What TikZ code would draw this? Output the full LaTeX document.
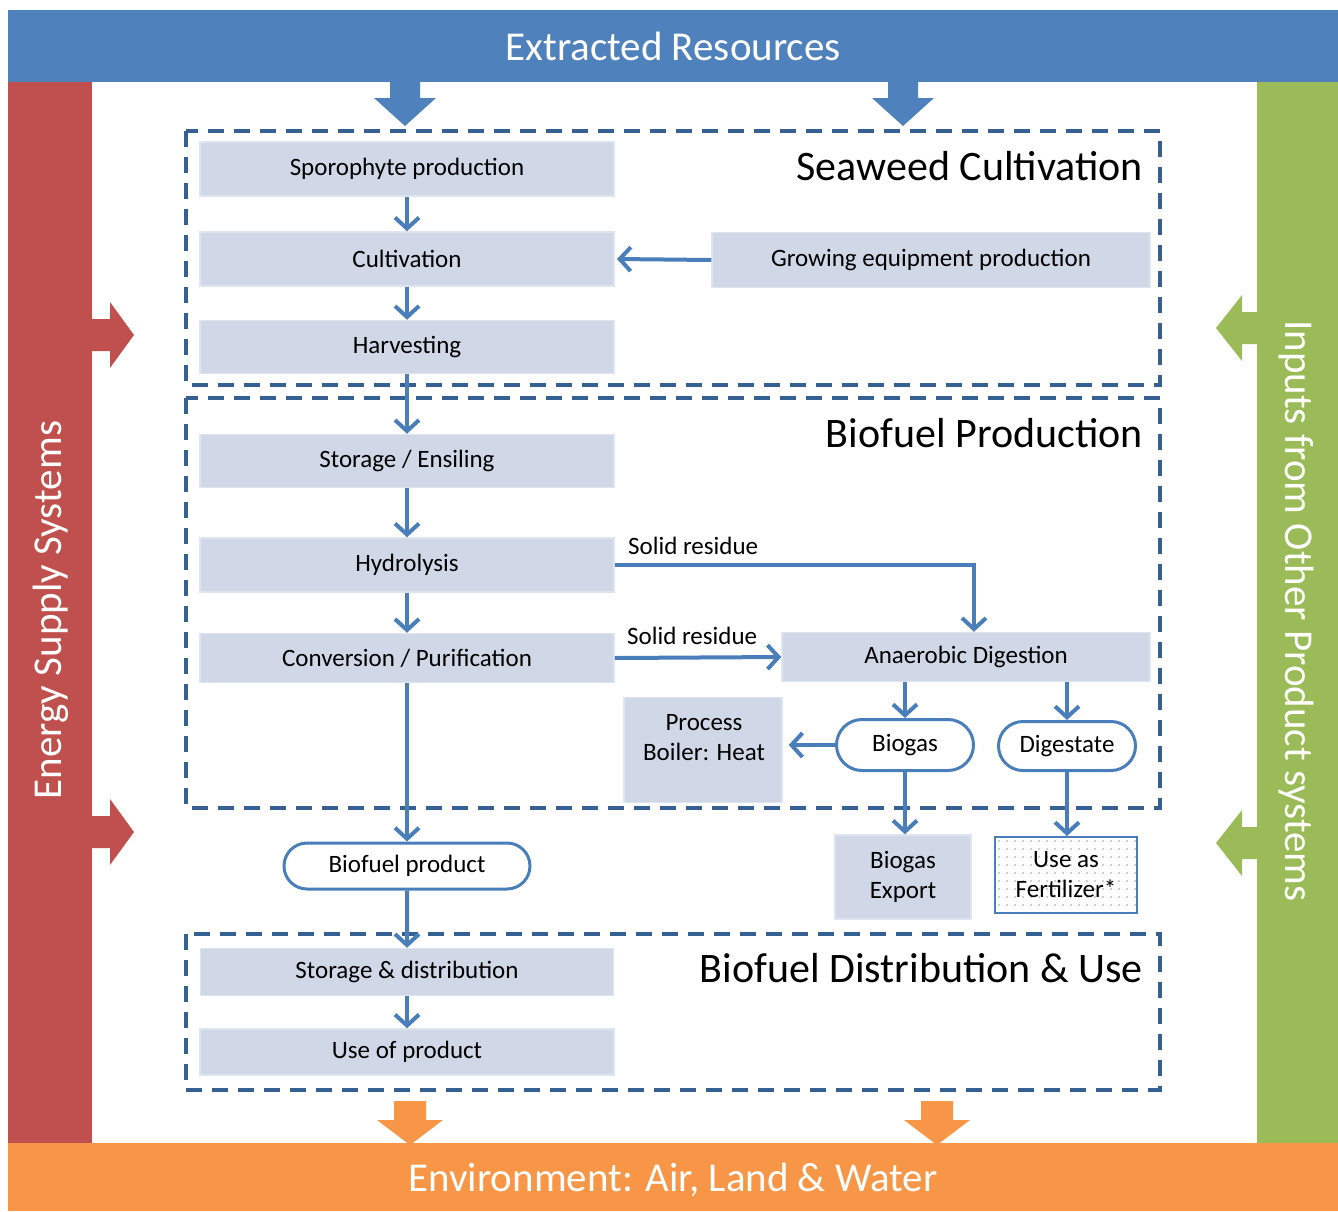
\documentclass[tikz,border=0pt]{standalone}
\usepackage{fontspec}
\setmainfont{Carlito}
\usetikzlibrary{arrows.meta,calc,shapes.misc}
\definecolor{barblue}{RGB}{79,129,189}
\definecolor{barred}{RGB}{192,80,77}
\definecolor{bargreen}{RGB}{155,187,89}
\definecolor{barorange}{RGB}{247,150,70}
\definecolor{boxfill}{RGB}{208,216,232}
\definecolor{boxline}{RGB}{222,228,240}
\definecolor{dashcol}{RGB}{55,96,146}
\definecolor{arrcol}{RGB}{74,126,187}
\tikzset{
  proc/.style={fill=boxfill, draw=boxline, line width=1.5pt, inner sep=0pt, align=center,
    font=\fontsize{25}{30}\selectfont},
  pill/.style={rounded rectangle, fill=white, draw=arrcol, line width=3pt, inner sep=0pt,
    font=\fontsize{25}{30}\selectfont},
  dashbox/.style={draw=dashcol, line width=4pt, dash pattern=on 16pt off 10pt},
  arr/.style={draw=arrcol, line width=4pt, -{Straight Barb[length=11pt,width=24pt]}},
  title/.style={anchor=east, inner sep=0pt, font=\fontsize{42}{46}\selectfont},
  bartext/.style={text=white, inner sep=0pt, font=\fontsize{41}{46}\selectfont},
  lbl/.style={inner sep=0pt, font=\fontsize{25}{30}\selectfont},
  txt/.style={inner sep=0pt, align=center, font=\fontsize{25}{30}\selectfont}
}
\begin{document}
\begin{tikzpicture}[x=1pt,y=-1pt]
\useasboundingbox (0,0) rectangle (1338,1211);
% side bars
\fill[barred] (8,82) rectangle (92,1143);
\fill[bargreen] (1257,82) rectangle (1338,1143);
\fill[barblue] (8,10) rectangle (1338,82);
\fill[barorange] (8,1143) rectangle (1338,1211);
\node[bartext] (ext) at (673,46) {Extracted Resources};
\node[bartext] (env) at (673,1180) {Environment: Air, Land \& Water};
\node[bartext, rotate=90] (ess) at (51,610) {Energy Supply Systems};
\node[bartext, rotate=-90] (inp) at (1296,611) {Inputs from Other Product systems};
% block arrows top
\foreach \cx in {405,903}{
  \fill[barblue] (\cx-15,80) -- (\cx+15,80) -- (\cx+15,98) -- (\cx+31,98) -- (\cx,126)
    -- (\cx-31,98) -- (\cx-15,98) -- cycle;}
% block arrows bottom
\foreach \cx in {410,937}{
  \fill[barorange] (\cx-16,1101) -- (\cx+16,1101) -- (\cx+16,1120) -- (\cx+33,1120) -- (\cx,1145)
    -- (\cx-33,1120) -- (\cx-16,1120) -- cycle;}
% block arrows left
\foreach \cy in {335,832}{
  \fill[barred] (90,\cy-16) -- (110,\cy-16) -- (110,\cy-33) -- (134,\cy) -- (110,\cy+33)
    -- (110,\cy+16) -- (90,\cy+16) -- cycle;}
% block arrows right
\foreach \cy in {328,843}{
  \fill[bargreen] (1259,\cy-16) -- (1242,\cy-16) -- (1242,\cy-33) -- (1216,\cy) -- (1242,\cy+33)
    -- (1242,\cy+16) -- (1259,\cy+16) -- cycle;}
% dashed frames
\draw[dashbox] (186,131) rectangle (1160,385);
\draw[dashbox] (186,398) rectangle (1160,808);
\draw[dashbox] (186,934) rectangle (1160,1090);
\node[title] (t1) at (1143,166) {Seaweed Cultivation};
\node[title] (t2) at (1143,433) {Biofuel Production};
\node[title] (t3) at (1143,968) {Biofuel Distribution \& Use};
% process boxes
\node[proc, minimum width=414pt, minimum height=54pt] (spo) at (407,169) {Sporophyte production};
\node[proc, minimum width=414pt, minimum height=54pt] (cul) at (407,259) {Cultivation};
\node[proc, minimum width=414pt, minimum height=53pt] (har) at (407,347) {Harvesting};
\node[proc, minimum width=438pt, minimum height=55pt] (geq) at (931,260) {Growing equipment production};
\node[proc, minimum width=414pt, minimum height=53pt] (sto) at (407,461) {Storage / Ensiling};
\node[proc, minimum width=414pt, minimum height=54pt] (hyd) at (407,565) {Hydrolysis};
\node[proc, minimum width=414pt, minimum height=49pt] (con) at (407,658) {Conversion / Purification};
\node[proc, minimum width=368pt, minimum height=49pt] (ad) at (966,657) {Anaerobic Digestion};
\node[proc, minimum width=158pt, minimum height=105pt] (pb) at (703,750) {};
\node[txt] (pbt) at (704,738) {Process\\Boiler: Heat};
\node[pill, minimum width=137pt, minimum height=51pt] (bg) at (905,745) {Biogas};
\node[pill, minimum width=137pt, minimum height=49pt] (dg) at (1067,746) {Digestate};
\node[proc, minimum width=136pt, minimum height=84pt] (bge) at (903,877) {Biogas\\Export};
\node[align=center, inner sep=0pt, minimum width=142pt, minimum height=76pt, draw=arrcol, line width=2pt,
  font=\fontsize{25}{30}\selectfont,
  path picture={\foreach \i in {0,...,17}{\foreach \j in {0,...,9}{
    \fill[gray!75] ($(path picture bounding box.north west)+(4+8*\i,4+8*\j)$) circle (0.9pt);}}}]
  (fer) at (1066,875) {Use as\\Fertilizer*};
\node[pill, minimum width=246pt, minimum height=46pt] (bfp) at (407,866) {Biofuel product};
\node[proc, minimum width=413pt, minimum height=47pt] (sd) at (407,972) {Storage \& distribution};
\node[proc, minimum width=414pt, minimum height=46pt] (use) at (407,1052) {Use of product};
% connectors
\draw[arr] (spo) -- (cul);
\draw[arr] (cul) -- (har);
\draw[arr] (geq.west) -- (cul.east -| 617,0);
\draw[arr] (har) -- (sto);
\draw[arr] (sto) -- (hyd);
\draw[arr] (hyd) -- (con);
\draw[arr] (hyd.east) -| ([xshift=8pt]ad.north);
\node[lbl, anchor=south west] (sr1) at (628,555) {Solid residue};
\draw[arr] (con.east) -- (ad.west);
\node[lbl, anchor=south west] (sr2) at (627,645) {Solid residue};
\draw[arr] (con) -- (bfp);
\draw[arr] (bfp) -- (sd);
\draw[arr] (sd) -- (use);
\draw[arr] (ad.south -| bg.north) -- (bg.north);
\draw[arr] (ad.south -| dg.north) -- (dg.north);
\draw[arr] (bg.west) -- ([xshift=6pt]bg.west -| pb.east);
\draw[arr] (bg.south) -- (bg.south |- bge.north);
\draw[arr] (dg.south) -- (dg.south |- fer.north);
\end{tikzpicture}
\end{document}
